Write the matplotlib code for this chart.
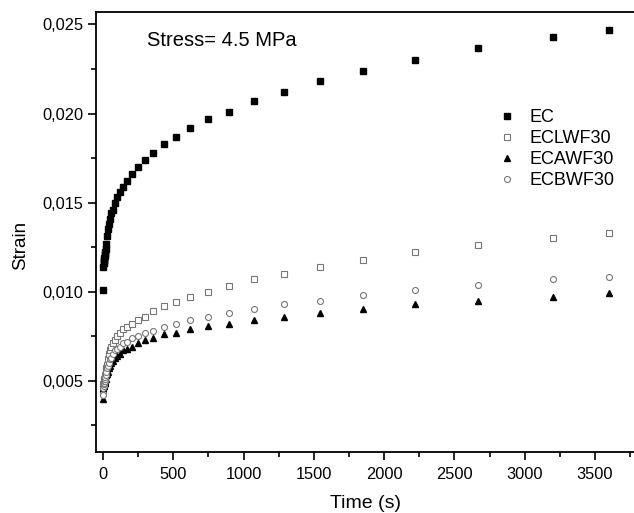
import matplotlib
matplotlib.use("Agg")
import matplotlib.pyplot as plt
from matplotlib.ticker import MultipleLocator, FuncFormatter

plt.rcParams['font.family'] = ['Liberation Sans', 'DejaVu Sans']

# time (s)
time_s = [0, 2, 4, 6, 8, 10, 12, 14, 16, 19, 23, 28, 33, 40, 48, 58, 69, 83, 100,
          120, 144, 173, 208, 249, 299, 359, 431, 517, 620, 744, 893, 1072, 1286,
          1543, 1852, 2222, 2667, 3200, 3600]

ec = [0.0101, 0.0114, 0.0116, 0.0117, 0.0118, 0.0119, 0.0120, 0.0121, 0.0122,
      0.0124, 0.0127, 0.0131, 0.0135, 0.0138, 0.0141, 0.0144, 0.0146, 0.0150,
      0.0153, 0.0156, 0.0159, 0.0162, 0.0166, 0.0170, 0.0174, 0.0178, 0.0183,
      0.0187, 0.0192, 0.0197, 0.0201, 0.0207, 0.0212, 0.0218, 0.0224, 0.0230,
      0.0237, 0.0243, 0.0247]

eclwf30 = [0.0043, 0.0048, 0.0048, 0.0049, 0.0050, 0.0051, 0.0051, 0.0052, 0.0053,
           0.0055, 0.0057, 0.0059, 0.0062, 0.0065, 0.0067, 0.0069, 0.0071, 0.0073,
           0.0075, 0.0077, 0.0079, 0.0080, 0.0082, 0.0084, 0.0086, 0.0089, 0.0092,
           0.0094, 0.0097, 0.0100, 0.0103, 0.0107, 0.0110, 0.0114, 0.0118, 0.0122,
           0.0126, 0.0130, 0.0133]

ecawf30 = [0.0040, 0.0046, 0.0047, 0.0047, 0.0048, 0.0048, 0.0049, 0.0049, 0.0050,
           0.0051, 0.0053, 0.0054, 0.0055, 0.0057, 0.0058, 0.0060, 0.0061, 0.0063,
           0.0064, 0.0065, 0.0067, 0.0068, 0.0069, 0.0071, 0.0073, 0.0074, 0.0076,
           0.0077, 0.0079, 0.0081, 0.0082, 0.0084, 0.0086, 0.0088, 0.0090, 0.0093,
           0.0095, 0.0097, 0.0099]

ecbwf30 = [0.0042, 0.0046, 0.0047, 0.0048, 0.0049, 0.0050, 0.0050, 0.0051, 0.0052,
           0.0053, 0.0055, 0.0057, 0.0058, 0.0060, 0.0062, 0.0063, 0.0065, 0.0067,
           0.0068, 0.0069, 0.0071, 0.0072, 0.0074, 0.0075, 0.0077, 0.0078, 0.0080,
           0.0082, 0.0084, 0.0086, 0.0088, 0.0090, 0.0093, 0.0095, 0.0098, 0.0101,
           0.0104, 0.0107, 0.0108]

fig = plt.figure(figsize=(6.34, 5.13), dpi=100)
ax = fig.add_axes([96/634, 1-452/513, 538/634, 440/513])

gray = '#777777'
ax.plot(time_s, ec, ls='none', marker='s', ms=3.8, mfc='black', mec='black', label='EC')
ax.plot(time_s, eclwf30, ls='none', marker='s', ms=4, mfc='white', mec=gray, mew=0.8, label='ECLWF30')
ax.plot(time_s, ecawf30, ls='none', marker='^', ms=5, mfc='black', mec='black', label='ECAWF30')
ax.plot(time_s, ecbwf30, ls='none', marker='o', ms=4.3, mfc='white', mec=gray, mew=0.8, label='ECBWF30')

ax.set_xlim(-50, 3777)
ax.set_ylim(0.001, 0.0257)

ax.xaxis.set_major_locator(MultipleLocator(500))
ax.xaxis.set_minor_locator(MultipleLocator(250))
ax.yaxis.set_major_locator(MultipleLocator(0.005))
ax.yaxis.set_minor_locator(MultipleLocator(0.0025))
ax.yaxis.set_major_formatter(FuncFormatter(lambda v, p: f"{v:.3f}".replace('.', ',')))

ax.tick_params(which='major', direction='out', length=6, width=1.2, labelsize=11.8)
ax.tick_params(axis='x', which='major', pad=5)
ax.tick_params(axis='y', which='major', pad=3)
ax.tick_params(which='minor', direction='out', length=3.5, width=1.2)
ax.tick_params(top=False, right=False)
ax.spines['right'].set_visible(False)
for s in ['left', 'bottom', 'top']:
    ax.spines[s].set_linewidth(1.3)

ax.set_xlabel('Time (s)', fontsize=14)
ax.set_ylabel('Strain', fontsize=13.5)
ax.xaxis.set_label_coords(0.5, -0.097)
ax.yaxis.set_label_coords(-0.124, 0.47)

ax.text(0.095, 0.935, 'Stress= 4.5 MPa', transform=ax.transAxes, fontsize=14.5, va='center')

ax.legend(loc='upper left', bbox_to_anchor=(0.73, 0.80), frameon=False, fontsize=13,
          handlelength=1.0, handletextpad=0.75, labelspacing=0.22, borderpad=0)

fig.savefig('out.png', dpi=100)
